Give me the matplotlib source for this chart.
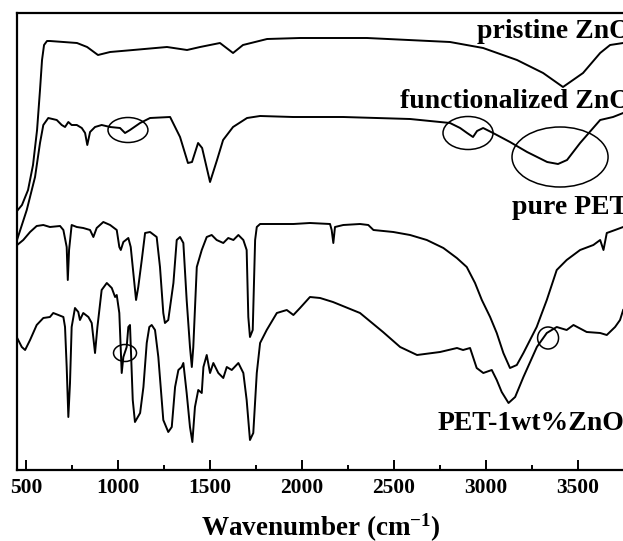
import numpy as np
import matplotlib
matplotlib.use("Agg")
import matplotlib.pyplot as plt
from matplotlib.patches import Ellipse

# values (transmittance in arbitrary, offset units)
wn_pristine = [451, 478, 511, 538, 560, 576, 587, 598, 614, 630, 777, 832, 891, 957, 1082, 1266,
               1375, 1446, 1554, 1625, 1679, 1810, 1989, 2353, 2804, 2984, 3168, 3310, 3418,
               3527, 3620, 3674, 3745]
t_pristine = [259, 265, 280, 305, 340, 380, 410, 425, 429, 429, 427, 423, 415, 418, 420, 423,
              420, 423, 427, 417, 425, 431, 432, 432, 428, 422, 410, 397, 383,
              397, 417, 425, 427]

wn_func = [451, 504, 549, 576, 594, 621, 667, 694, 712, 730, 748, 776, 803, 821, 833, 848, 875,
           911, 957, 1011, 1038, 1065, 1120, 1174, 1283, 1337, 1380, 1402, 1435, 1457, 1500,
           1538, 1571, 1625, 1701, 1772, 1951, 2223, 2587, 2804, 2859, 2897, 2929, 2951, 2984,
           3038, 3130, 3223, 3332, 3391, 3440, 3511, 3582, 3620, 3690, 3745]
t_func = [230, 260, 293, 327, 345, 352, 350, 345, 343, 348, 345, 345, 342, 337, 325, 338, 343,
          345, 343, 342, 337, 340, 347, 352, 353, 333, 307, 308, 327, 322, 288,
          310, 330, 343, 352, 354, 353, 353, 351, 347, 342, 337, 333, 339, 342,
          337, 328, 318, 308, 306, 310, 327, 342, 350, 353, 357]

wn_pet = [452, 485, 522, 558, 594, 630, 685, 703, 721, 727, 734, 748, 776, 811, 848, 866, 884,
          920, 957, 993, 1007, 1015, 1029, 1056, 1069, 1087, 1098, 1110, 1129, 1147, 1174,
          1210, 1228, 1246, 1255, 1273, 1301, 1319, 1337, 1355, 1373, 1391, 1401, 1409, 1428,
          1455, 1482, 1509, 1536, 1572, 1599, 1627, 1654, 1681, 1699, 1708, 1717, 1732, 1745,
          1754, 1772, 1863, 1953, 2043, 2152, 2161, 2170, 2179, 2224, 2315, 2360, 2388, 2496,
          2587, 2678, 2768, 2841, 2895, 2940, 2977, 3022, 3058, 3094, 3130, 3167, 3203, 3275,
          3330, 3384, 3438, 3511, 3583, 3620, 3638, 3656, 3701, 3745]
t_pet = [225, 230, 238, 244, 245, 243, 244, 240, 223, 190, 220, 245, 243, 242, 240, 233, 242,
         248, 245, 240, 223, 220, 228, 232, 223, 190, 170, 183, 210, 237, 238,
         233, 203, 157, 147, 150, 187, 230, 233, 227, 170, 123, 103, 123, 203,
         220, 233, 235, 230, 227, 232, 230, 235, 230, 220, 153, 133, 140, 230,
         243, 246, 246, 246, 247, 246, 240, 227, 243, 245, 246, 245, 240, 238,
         235, 230, 222, 212, 203, 187, 170, 153, 137, 117, 102, 105, 117, 143,
         170, 200, 210, 220, 225, 230, 220, 237, 240, 243]

wn_comp = [452, 477, 495, 522, 558, 594, 630, 648, 676, 703, 712, 721, 730, 739, 748, 766, 784,
           793, 811, 839, 857, 875, 888, 911, 939, 966, 984, 993, 1007, 1020, 1029, 1047, 1056,
           1065, 1080, 1092, 1120, 1138, 1156, 1170, 1183, 1201, 1219, 1246, 1273, 1292, 1310,
           1328, 1346, 1355, 1373, 1391, 1404, 1418, 1436, 1455, 1464, 1482, 1500, 1518, 1545,
           1572, 1591, 1618, 1654, 1681, 1699, 1717, 1735, 1754, 1772, 1808, 1863, 1917, 1953,
           1989, 2043, 2098, 2168, 2315, 2440, 2533, 2625, 2750, 2842, 2875, 2913, 2949, 2985,
           3031, 3058, 3085, 3122, 3158, 3203, 3276, 3330, 3384, 3438, 3475, 3547, 3620, 3656,
           3701, 3728, 3745]
t_comp = [132, 123, 120, 130, 145, 152, 153, 157, 155, 153, 143, 103, 53, 87, 143, 162, 158,
          150, 157, 153, 147, 117, 143, 180, 187, 182, 173, 175, 157, 97, 113, 123, 143,
          145, 70, 48, 57, 83, 127, 143, 145, 140, 113, 50, 38, 43, 83,
          100, 103, 107, 77, 43, 28, 63, 80, 77, 103, 115, 97, 107, 97,
          92, 103, 100, 107, 97, 70, 30, 37, 97, 127, 140, 157, 160, 155,
          162, 173, 172, 168, 157, 138, 123, 115, 118, 122, 120, 122, 102, 97,
          100, 90, 78, 67, 73, 93, 123, 137, 143, 140, 145, 138, 137, 135,
          143, 150, 160]

curve_labels = ["pristine ZnO", "functionalized ZnO", "pure PET", "PET-1wt%ZnO"]
label_pos = [(2951, 438), (2533, 369), (3141, 262), (2734, 46)]

# circled features: (centre wn, centre T, width, height)
circles = [(1054, 340, 217, 25), (2902, 337, 272, 33), (3402, 313, 522, 60),
           (1038, 117, 125, 17), (3337, 132, 114, 22)]

plt.rcParams["font.family"] = "Liberation Serif"
plt.rcParams["font.weight"] = "bold"
plt.rcParams["mathtext.fontset"] = "custom"
plt.rcParams["mathtext.rm"] = "Liberation Serif:bold"
plt.rcParams["mathtext.it"] = "Liberation Serif:bold"
plt.rcParams["mathtext.bf"] = "Liberation Serif:bold"

fig = plt.figure(figsize=(6.23, 5.41), dpi=100)
ax = fig.add_axes([17 / 623, 71 / 541, 608 / 623, 457 / 541])

for wn, t in [(wn_pristine, t_pristine), (wn_func, t_func), (wn_pet, t_pet), (wn_comp, t_comp)]:
    ax.plot(wn, t, color="black", lw=1.4)

for (cx, cy, w, h) in circles:
    ax.add_patch(Ellipse((cx, cy), w, h, fill=False, edgecolor="black", lw=1.1))

for txt, (x, y) in zip(curve_labels, label_pos):
    ax.text(x, y, txt, fontsize=20, fontweight="bold", va="center", ha="left", clip_on=False)

ax.set_xlim(451, 3755)
ax.set_ylim(0, 457)
ax.set_xticks([500, 1000, 1500, 2000, 2500, 3000, 3500])
ax.set_xticks(np.arange(750, 3750, 500), minor=True)
ax.set_yticks([])
ax.tick_params(axis="x", which="major", direction="in", length=7, width=1.4, labelsize=15.5, pad=6)
ax.tick_params(axis="x", which="minor", direction="in", length=3.5, width=1.4)
for s in ["left", "bottom", "top"]:
    ax.spines[s].set_linewidth(1.6)
ax.spines["right"].set_visible(False)
for lab in ax.get_xticklabels():
    lab.set_fontweight("bold")

ax.set_xlabel("Wavenumber (cm$^{-1}$)", fontsize=19.5, fontweight="bold", labelpad=10)

fig.savefig("out.png", dpi=100)
